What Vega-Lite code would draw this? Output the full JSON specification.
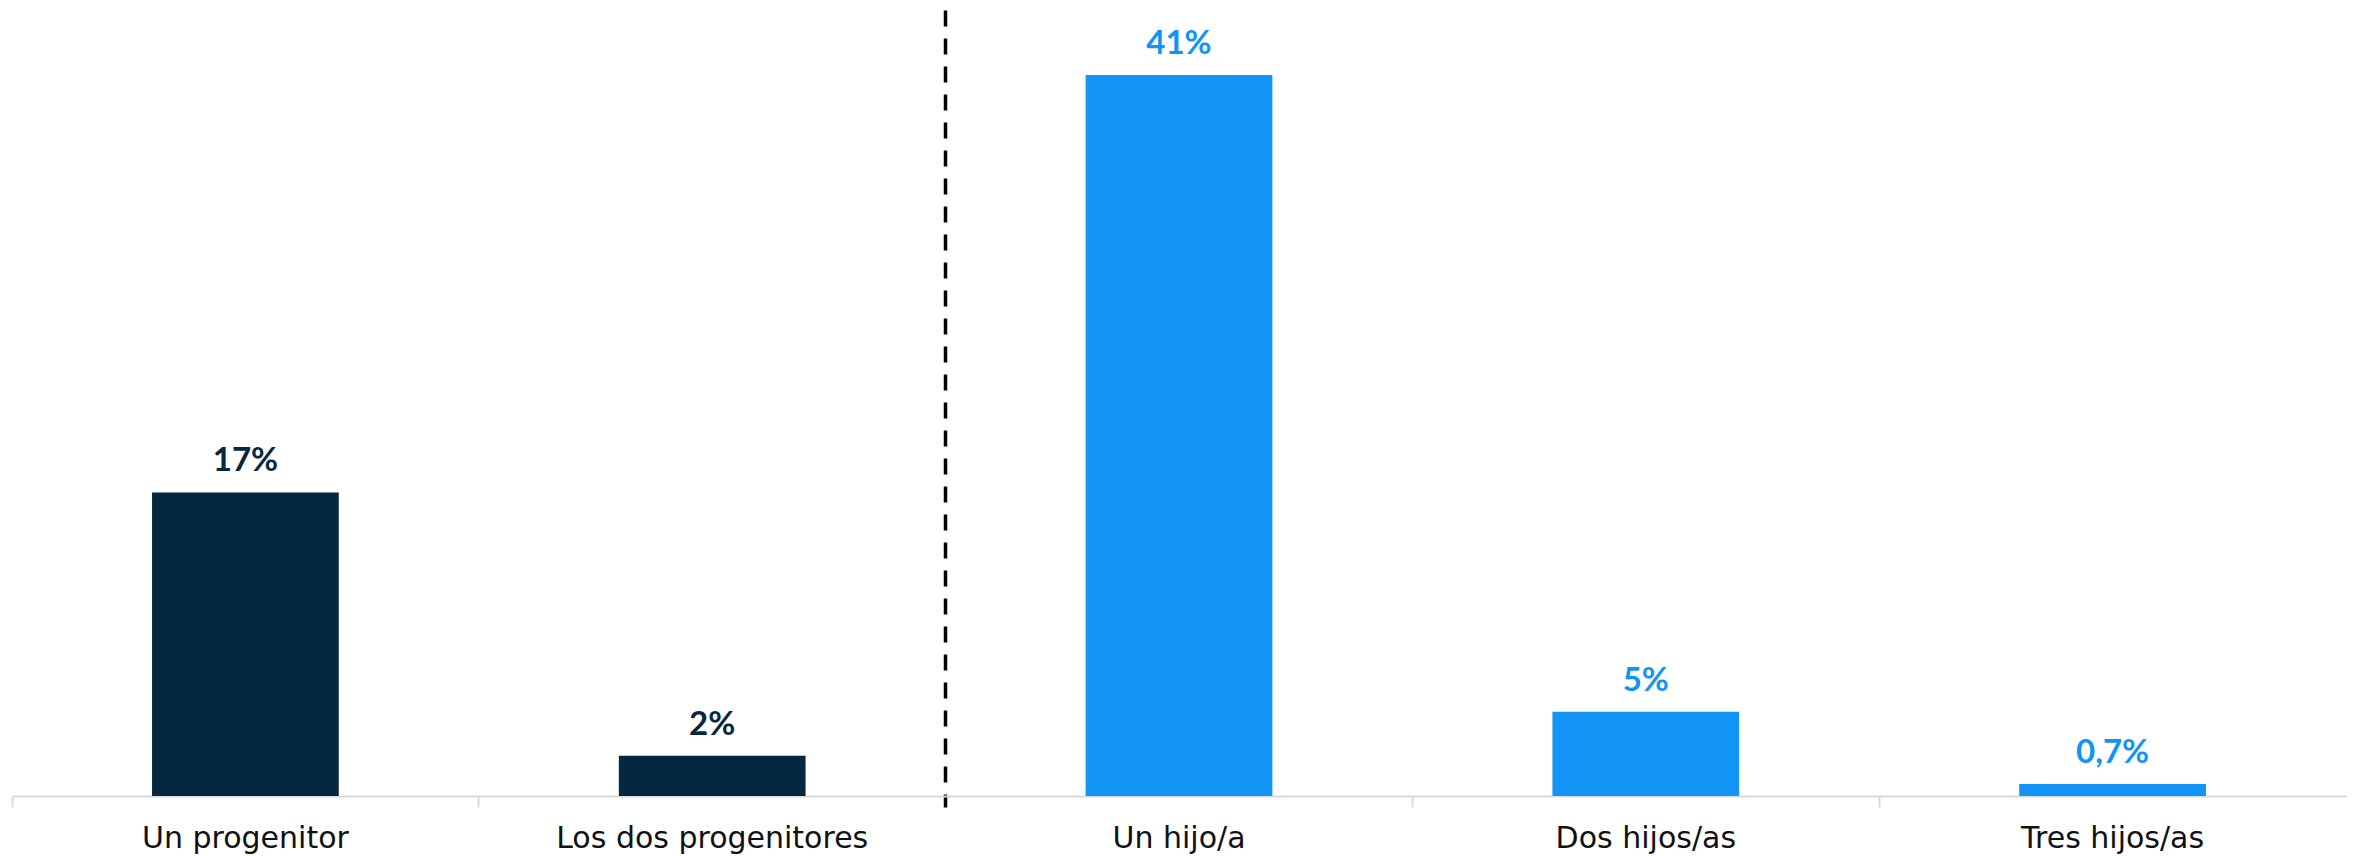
{
  "$schema": "https://vega.github.io/schema/vega-lite/v6.json",
  "autosize": "none",
  "padding": {"left": 12, "top": 10, "right": 11, "bottom": 60},
  "width": 2334,
  "height": 786,
  "background": "white",
  "config": {"view": {"stroke": null}},
  "data": {"values": [
    {"categoria": "Un progenitor", "valor": 17.3, "etiqueta": "17%", "grupo": "progenitores"},
    {"categoria": "Los dos progenitores", "valor": 2.3, "etiqueta": "2%", "grupo": "progenitores"},
    {"categoria": "Un hijo/a", "valor": 41.1, "etiqueta": "41%", "grupo": "hijos"},
    {"categoria": "Dos hijos/as", "valor": 4.8, "etiqueta": "5%", "grupo": "hijos"},
    {"categoria": "Tres hijos/as", "valor": 0.68, "etiqueta": "0,7%", "grupo": "hijos"}
  ]},
  "encoding": {
    "x": {
      "field": "categoria",
      "type": "nominal",
      "sort": null,
      "scale": {"paddingInner": 0, "paddingOuter": 0},
      "axis": {
        "title": null,
        "bandPosition": 0,
        "domainColor": "#d9d9d9",
        "domainWidth": 2,
        "ticks": true,
        "tickSize": 11,
        "tickColor": {"condition": {"test": "datum.value === 'Un hijo/a'", "value": "#000000"}, "value": "#d9d9d9"},
        "tickWidth": {"condition": {"test": "datum.value === 'Un hijo/a'", "value": 3.5}, "value": 2},
        "grid": true,
        "gridColor": "#000000",
        "gridWidth": 3.5,
        "gridDash": [16, 12],
        "gridOpacity": {"condition": {"test": "datum.value === 'Un hijo/a'", "value": 1}, "value": 0},
        "labelAngle": 0,
        "labelFont": "DejaVu Sans",
        "labelFontSize": 30,
        "labelColor": "#111111",
        "labelBaseline": "alphabetic",
        "labelPadding": 40,
        "labelLimit": 0,
        "labelOverlap": false,
        "labelFlush": false
      }
    },
    "y": {
      "field": "valor",
      "type": "quantitative",
      "scale": {"domain": [0, 44.8], "nice": false, "zero": true},
      "axis": null
    },
    "color": {
      "field": "grupo",
      "type": "nominal",
      "scale": {"domain": ["progenitores", "hijos"], "range": ["#05273F", "#1294F6"]},
      "legend": null
    }
  },
  "layer": [
    {"mark": {"type": "bar", "width": {"band": 0.4}}},
    {
      "mark": {"type": "text", "baseline": "alphabetic", "dy": -21, "font": "Lato", "fontWeight": "bold", "fontSize": 33},
      "encoding": {"text": {"field": "etiqueta"}}
    }
  ]
}
